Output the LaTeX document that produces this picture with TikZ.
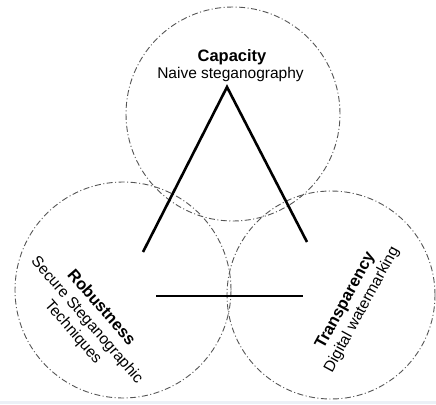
\documentclass[tikz,border=0pt]{standalone}
\usepackage{fontspec}
\setmainfont{Liberation Sans}
\definecolor{ringgray}{RGB}{85,85,85}
\definecolor{bandblue}{RGB}{236,240,246}
\newcommand{\ttlfont}{\fontsize{16.5}{18.5}\selectfont\bfseries}
\begin{document}
\begin{tikzpicture}[x=1pt,y=-1pt,
  ring/.style={circle,draw=ringgray,line width=0.9pt,
    dash pattern=on 6pt off 2.5pt on 1pt off 2.5pt,minimum size=#1,inner sep=0pt},
  leg/.style={line width=2.6pt,black},
  title/.style={font=\ttlfont,inner sep=0pt},
  sub/.style={font=\fontsize{15.5}{17}\selectfont,inner sep=0pt},
  block/.style={font=\fontsize{15.5}{18.5}\selectfont,inner sep=0pt,align=center}]
\useasboundingbox (0,0) rectangle (436,404);
\fill[white] (0,0) rectangle (436,404);
\fill[bandblue] (0,401) rectangle (436,404);
% circles
\node[ring=214pt] (ctop) at (233,114) {};
\node[ring=216pt] (cleft) at (123,290) {};
\node[ring=208pt] (cright) at (331,295) {};
% triangle
\coordinate (apex) at (227,87);
\coordinate (lfoot) at (143,252);
\coordinate (rfoot) at (307,242);
\coordinate (bl) at (156,296);
\coordinate (br) at (303,296);
\draw[leg] (lfoot) -- (apex) -- (rfoot);
\draw[leg] (bl) -- (br);
% texts
\node[title,anchor=base] (cap) at (232,62) {Capacity};
\node[sub,anchor=base] (naive) at (230.5,78) {Naive steganography};
\node[block,rotate=-49] (rob) at (87,320)
  {{\ttlfont Robustness}\\Secure Steganographic\\Techniques};
\node[block,rotate=61.5] (tra) at (353.8,305.3)
  {{\ttlfont Transparency}\\Digital watermarking};
\end{tikzpicture}
\end{document}
